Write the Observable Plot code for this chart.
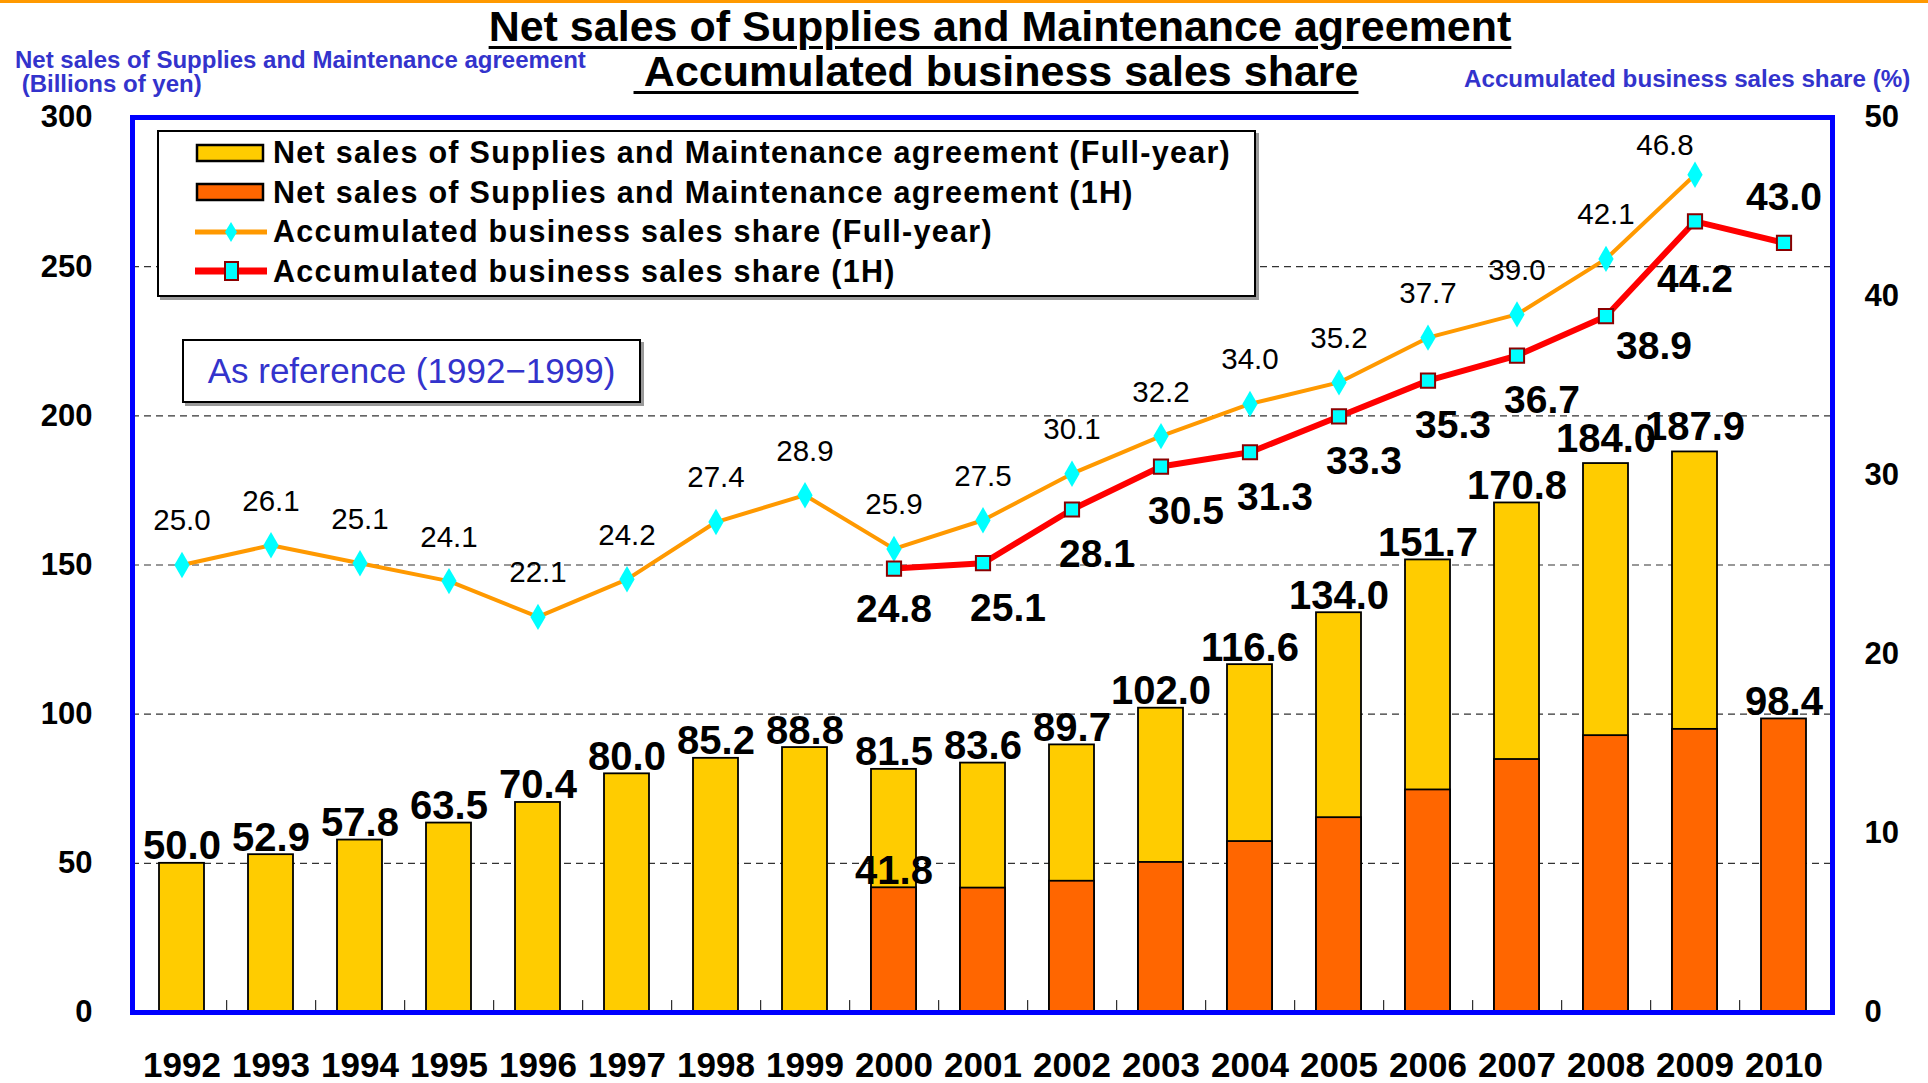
<!DOCTYPE html>
<html>
<head>
<meta charset="utf-8">
<script src="https://cdn.jsdelivr.net/npm/d3@7"></script>
<script src="https://cdn.jsdelivr.net/npm/@observablehq/plot@0.6"></script>
<style>
  html, body { margin: 0; padding: 0; background: #fff; }
  #wrap { position: relative; width: 1928px; height: 1083px; overflow: hidden; font-family: "Liberation Sans", Arial, sans-serif; }
  #topline { position: absolute; left: 0; top: 0; width: 1928px; height: 3px; background: #FF9900; }
  #header { position: relative; height: 97px; }
  .title { position: absolute; left: 0; width: 2000px; text-align: center; font-weight: bold; font-size: 43px; color: #000;
           text-decoration: underline; text-decoration-thickness: 3px; text-underline-offset: 5px; white-space: pre; }
  .axtitle { position: absolute; font-weight: bold; font-size: 24px; color: #3333CC; white-space: pre; line-height: 24px; }
  #legend { position: absolute; left: 157px; top: 130px; width: 1095px; height: 163px; border: 2px solid #000;
            box-shadow: 3px 3px 0 #9a9a9a; background: #fff; }
  .lrow { position: absolute; left: 0; height: 39px; display: flex; align-items: center; }
  .lrow svg { margin-left: 36px; width: 72px; height: 30px; }
  .lrow span { margin-left: 6px; font-weight: bold; font-size: 30.5px; letter-spacing: 1.3px; color: #000; white-space: pre; }
  #refbox { position: absolute; left: 182px; top: 339px; width: 455px; height: 60px; border: 2px solid #000;
            box-shadow: 3px 3px 0 #9a9a9a; background: #fff; display: flex; align-items: center; justify-content: center;
            font-size: 35px; color: #3333CC; white-space: pre; }
</style>
</head>
<body>
<div id="wrap">
  <div id="topline"></div>
  <div id="header">
    <div class="title" style="top:2px; left:0; width:2000px;">Net sales of Supplies and Maintenance agreement</div>
    <div class="title" style="top:47px; left:-4px; width:2000px;"> Accumulated business sales share</div>
    <div class="axtitle" style="left:15px; top:48px;">Net sales of Supplies and Maintenance agreement<br> (Billions of yen)</div>
    <div class="axtitle" style="left:1464px; top:67px; font-size:24.2px;">Accumulated business sales share (%)</div>
  </div>
  <div id="chart"></div>
  <div id="legend"></div>
  <div id="refbox">As reference (1992−1999)</div>
</div>
<script>
// ---- data ----
const years = ["1992","1993","1994","1995","1996","1997","1998","1999","2000","2001","2002","2003","2004","2005","2006","2007","2008","2009","2010"];
const fullSales = [50.0, 52.9, 57.8, 63.5, 70.4, 80.0, 85.2, 88.8, 81.5, 83.6, 89.7, 102.0, 116.6, 134.0, 151.7, 170.8, 184.0, 187.9, null];
const h1Sales   = [null, null, null, null, null, null, null, null, 41.8, 41.7, 44.0, 50.3, 57.3, 65.3, 74.6, 84.8, 92.8, 94.9, 98.4];
const fullShare = [25.0, 26.1, 25.1, 24.1, 22.1, 24.2, 27.4, 28.9, 25.9, 27.5, 30.1, 32.2, 34.0, 35.2, 37.7, 39.0, 42.1, 46.8, null];
const h1Share   = [null, null, null, null, null, null, null, null, 24.8, 25.1, 28.1, 30.5, 31.3, 33.3, 35.3, 36.7, 38.9, 44.2, 43.0];
const leftTicks = [0, 50, 100, 150, 200, 250, 300];
const rightTicks = [0, 10, 20, 30, 40, 50];
const gridValues = [50, 100, 150, 200, 250];
const legendLabels = [
  "Net sales of Supplies and Maintenance agreement (Full-year)",
  "Net sales of Supplies and Maintenance agreement (1H)",
  "Accumulated business sales share (Full-year)",
  "Accumulated business sales share (1H)"
];

// ---- tables ----
const rows = years.map((y, i) => ({year: y, full: fullSales[i], h1: h1Sales[i], fs: fullShare[i], hs: h1Share[i]}));
const fullRows = rows.filter(d => d.full != null);
const h1Rows = rows.filter(d => d.h1 != null);
const fsRows = rows.filter(d => d.fs != null);
const hsRows = rows.filter(d => d.hs != null);
const k = 300 / 50; // right-axis (share %) to left-axis scale factor
const fmt = d3.format(".1f");

const YELLOW = "#FFCC00", ORANGE = "#FF6600", LINE_OR = "#FF9900", RED = "#FF0000", CYAN = "#00FFFF", DARKRED = "#8B0000";
const font = '"Liberation Sans", Arial, sans-serif';

function hsLabel(filterFn, dx, dy) {
  return Plot.text(hsRows.filter(filterFn), {x: "year", y: d => d.hs * k, text: d => fmt(d.hs),
    dx, dy, fontSize: 39, fontWeight: "bold", fill: "#000", lineAnchor: "middle"});
}

const chart = Plot.plot({
  width: 1928,
  height: 986,
  marginLeft: 132,
  marginRight: 96,
  marginTop: 20,
  marginBottom: 71,
  style: {fontFamily: font, fontSize: "32px", fontWeight: "bold", color: "#000", background: "transparent", overflow: "visible"},
  x: {domain: years, paddingInner: 0.5, paddingOuter: 0.25, label: null},
  y: {domain: [0, 300], label: null},
  marks: [
    Plot.gridY(gridValues, {stroke: "#333", strokeOpacity: 1, strokeWidth: 1.2, strokeDasharray: "7,5"}),
    Plot.barY(fullRows, {x: "year", y: "full", fill: YELLOW, stroke: "#000", strokeWidth: 1.8}),
    Plot.barY(h1Rows, {x: "year", y: "h1", fill: ORANGE, stroke: "#000", strokeWidth: 1.8}),
    Plot.ruleX(years.slice(0, -1), {x: d => d, y1: 0, y2: 4, dx: 44.7, stroke: "#000", strokeWidth: 1}),
    Plot.axisY({anchor: "left", ticks: leftTicks, tickSize: 0, tickPadding: 40, fontSize: 31, fontWeight: "bold", label: null}),
    Plot.axisY({anchor: "right", ticks: rightTicks.map(v => v * k), tickFormat: v => String(v / k), tickSize: 0, tickPadding: 32, fontSize: 31, fontWeight: "bold", label: null}),
    Plot.axisX({anchor: "bottom", tickSize: 0, tickPadding: 40, fontSize: 35, fontWeight: "bold", label: null}),
    Plot.frame({stroke: "#0000FF", strokeWidth: 5}),
    // bar labels
    Plot.text(fullRows.filter(d => d.full < 180), {x: "year", y: "full", text: d => fmt(d.full), dy: -4, lineAnchor: "bottom", fontSize: 40, fontWeight: "bold", fill: "#000"}),
    Plot.text(fullRows.filter(d => d.full >= 180), {x: "year", y: "full", text: d => fmt(d.full), dy: -12, lineAnchor: "bottom", fontSize: 40, fontWeight: "bold", fill: "#000"}),
    Plot.text(h1Rows.filter(d => d.year === "2000" || d.full == null), {x: "year", y: "h1", text: d => fmt(d.h1), dy: -4, lineAnchor: "bottom", fontSize: 40, fontWeight: "bold", fill: "#000"}),
    // full-year share line
    Plot.line(fsRows, {x: "year", y: d => d.fs * k, stroke: LINE_OR, strokeWidth: 4}),
    Plot.dot(fsRows, {x: "year", y: d => d.fs * k, symbol: "diamond", r: 8, fill: CYAN, stroke: "none"}),
    Plot.text(fsRows.filter(d => d.year !== "2009"), {x: "year", y: d => d.fs * k, text: d => fmt(d.fs), dy: -44, lineAnchor: "middle", fontSize: 29.5, fontWeight: "normal", fill: "#000"}),
    Plot.text(fsRows.filter(d => d.year === "2009"), {x: "year", y: d => d.fs * k, text: d => fmt(d.fs), dx: -30, dy: -29, lineAnchor: "middle", fontSize: 29.5, fontWeight: "normal", fill: "#000"}),
    // 1H share line
    Plot.line(hsRows, {x: "year", y: d => d.hs * k, stroke: RED, strokeWidth: 6}),
    Plot.dot(hsRows, {x: "year", y: d => d.hs * k, symbol: "square", r: 8, fill: CYAN, stroke: DARKRED, strokeWidth: 2}),
    hsLabel(d => d.year === "2000", 0, 41),
    hsLabel(d => d.year > "2000" && d.year < "2008", 25, 45),
    hsLabel(d => d.year === "2008", 48, 30),
    hsLabel(d => d.year === "2009", 0, 58),
    hsLabel(d => d.year === "2010", 0, -45)
  ]
});
document.getElementById("chart").appendChild(chart);

// ---- legend ----
const legend = d3.select("#legend");
const swatches = [
  s => s.append("rect").attr("x", 2).attr("y", 7).attr("width", 66).attr("height", 16).attr("fill", YELLOW).attr("stroke", "#000").attr("stroke-width", 2.5),
  s => s.append("rect").attr("x", 2).attr("y", 7).attr("width", 66).attr("height", 16).attr("fill", ORANGE).attr("stroke", "#000").attr("stroke-width", 2.5),
  s => {
    s.append("line").attr("x1", 0).attr("x2", 72).attr("y1", 15).attr("y2", 15).attr("stroke", LINE_OR).attr("stroke-width", 5);
    s.append("path").attr("d", "M36,5 L42,15 L36,25 L30,15 Z").attr("fill", CYAN);
  },
  s => {
    s.append("line").attr("x1", 0).attr("x2", 72).attr("y1", 15).attr("y2", 15).attr("stroke", RED).attr("stroke-width", 7);
    s.append("rect").attr("x", 30).attr("y", 6).attr("width", 13).attr("height", 18).attr("fill", CYAN).attr("stroke", DARKRED).attr("stroke-width", 2);
  }
];
legendLabels.forEach((lab, i) => {
  const row = legend.append("div").attr("class", "lrow").style("top", (1 + i * 39.5) + "px");
  const svg = row.append("svg").attr("viewBox", "0 0 72 30");
  swatches[i](svg);
  row.append("span").text(lab);
});
</script>
</body>
</html>
